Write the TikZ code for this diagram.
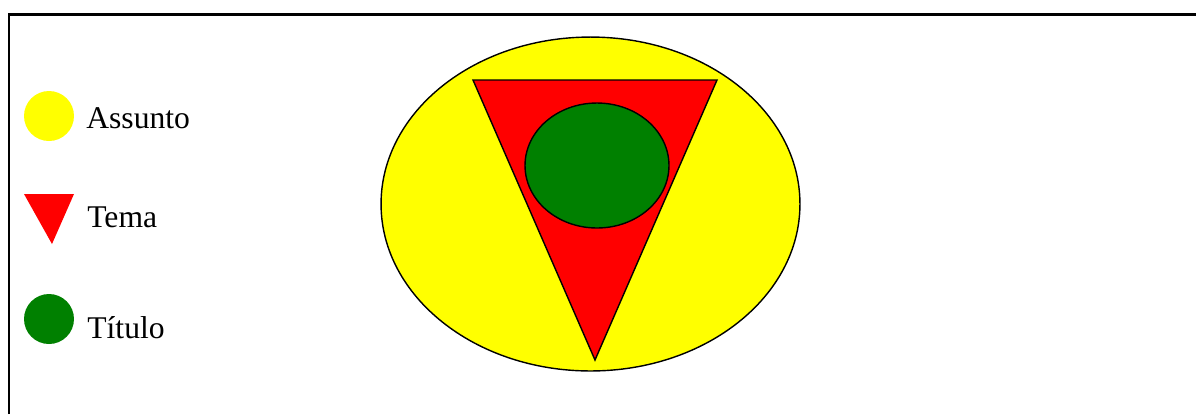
\documentclass[tikz,border=0pt]{standalone}
\usepackage{fontspec}
\setmainfont{Liberation Serif}
\usetikzlibrary{shapes.geometric, positioning}
\definecolor{assuntoYellow}{RGB}{255,255,0}
\definecolor{temaRed}{RGB}{255,0,0}
\definecolor{tituloGreen}{RGB}{0,128,0}

\begin{document}
\begin{tikzpicture}[
    x=0.02cm, y=-0.02cm,
    frame/.style={draw=black, line width=1.4pt},
    blob/.style={ellipse, draw, line width=0.8pt, inner sep=0pt},
    keydot/.style={circle, minimum size=1cm, inner sep=0pt},
    keytext/.style={anchor=base west, inner sep=0pt, font=\fontsize{18}{20}\selectfont},
]
\useasboundingbox (0,0) rectangle (1196,414);

% frame (only top and left edges show)
\draw[frame] (9,414) -- (9,14.5) -- (1196,14.5);

% nested shapes
\node[blob, fill=assuntoYellow, minimum width=8.38cm, minimum height=6.68cm] (assunto) at (590.5,204) {};
\coordinate (temaL) at (473,80);
\coordinate (temaR) at (717,80);
\coordinate (temaB) at (595,360);
\draw[fill=temaRed, line width=0.8pt, line join=miter] (temaL) -- (temaR) -- (temaB) -- cycle;
\node[blob, fill=tituloGreen, minimum width=2.88cm, minimum height=2.5cm] (titulo) at (597,165.5) {};

% legend
\node[keydot, fill=assuntoYellow] (keyA) at (49,116) {};
\coordinate (keyTL) at (24,194);
\coordinate (keyTR) at (74,194);
\coordinate (keyTB) at (52,244);
\fill[temaRed] (keyTL) -- (keyTR) -- (keyTB) -- cycle;
\node[keydot, fill=tituloGreen] (keyT) at (49,319) {};

\node[keytext] (labA) at (86,128) {Assunto};
\node[keytext] (labM) at (87,227) {Tema};
\node[keytext] (labT) at (87,338) {Título};

\end{tikzpicture}
\end{document}
